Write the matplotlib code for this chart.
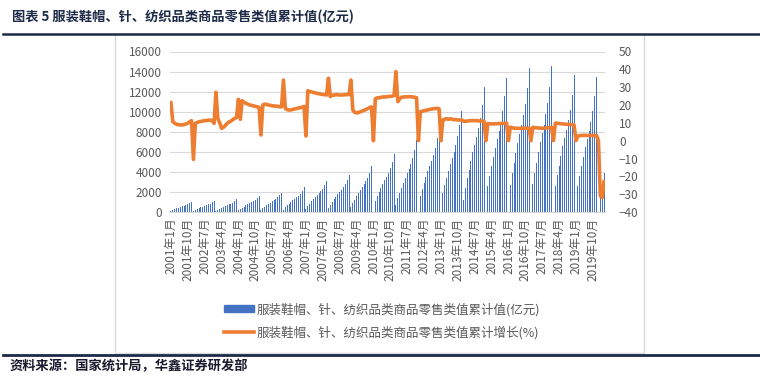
import matplotlib

matplotlib.use("Agg")
import matplotlib.pyplot as plt
from matplotlib.lines import Line2D
from matplotlib.patches import Patch, Rectangle

plt.rcParams["font.family"] = ["Noto Sans CJK SC", "DejaVu Sans"]

# cumulative value by year (亿元); 0 where the month was not published
value_2001 = [103, 196, 278, 350, 422, 494, 556, 618, 690, 773, 886, 1030]
value_2002 = [112, 213, 302, 381, 459, 538, 605, 672, 750, 840, 963, 1120]
value_2003 = [126, 239, 340, 428, 517, 605, 680, 756, 844, 945, 1084, 1260]
value_2004 = [159, 302, 429, 541, 652, 763, 859, 954, 1065, 1193, 1367, 1590]
value_2005 = [194, 369, 524, 660, 795, 931, 1048, 1164, 1300, 1455, 1668, 1940]
value_2006 = [245, 466, 662, 833, 1005, 1176, 1323, 1470, 1642, 1838, 2107, 2450]
value_2007 = [308, 585, 832, 1047, 1263, 1478, 1663, 1848, 2064, 2310, 2649, 3080]
value_2008 = [369, 701, 996, 1255, 1513, 1771, 1993, 2214, 2472, 2768, 3173, 3690]
value_2009 = [457, 868, 1234, 1554, 1874, 2194, 2468, 2742, 3062, 3428, 3930, 4570]
value_2010 = [0, 1108, 1574, 1982, 2390, 2798, 3148, 3498, 3906, 4373, 5014, 5830]
value_2011 = [716, 1360, 1933, 2434, 2936, 3437, 3866, 4296, 4797, 5370, 6158, 7160]
value_2012 = [0, 1625, 2309, 2907, 3506, 4104, 4617, 5130, 5729, 6413, 7353, 8550]
value_2013 = [0, 1908, 2711, 3414, 4116, 4819, 5422, 6024, 6727, 7530, 8634, 10040]
value_2014 = [1246, 2367, 3364, 4236, 5109, 5981, 6728, 7476, 8348, 9345, 10716, 12460]
value_2015 = [0, 2544, 3615, 4553, 5490, 6427, 7231, 8034, 8971, 10043, 11515, 13390]
value_2016 = [0, 2732, 3883, 4889, 5896, 6902, 7765, 8628, 9635, 10785, 12367, 14380]
value_2017 = [0, 2757, 3918, 4933, 5949, 6965, 7835, 8706, 9722, 10883, 12479, 14510]
value_2018 = [0, 2588, 3677, 4631, 5584, 6538, 7355, 8172, 9125, 10215, 11713, 13620]
value_2019 = [0, 2556, 3632, 4573, 5515, 6456, 7263, 8070, 9012, 10088, 11567, 13450]
value_2020 = [0, 1770, 2470, 3900]

# cumulative growth by year (%)
growth_2001 = [21.3, 10.6, 9.8, 9.2, 9.0, 8.8, 8.8, 9.0, 9.4, 9.8, 10.6, 11.2]
growth_2002 = [-10.5, 9.7, 10.2, 10.6, 10.8, 11.0, 11.2, 11.3, 11.5, 11.5, 11.3, 9.7]
growth_2003 = [27.1, 12.5, 10.0, 6.9, 7.5, 8.5, 9.7, 10.5, 11.0, 11.8, 12.5, 13.0]
growth_2004 = [23.2, 12.0, 22.4, 21.5, 21.0, 20.5, 20.0, 19.8, 19.5, 19.2, 19.0, 18.7]
growth_2005 = [3.2, 20.0, 20.5, 20.3, 20.0, 19.8, 19.5, 19.5, 19.3, 19.3, 19.0, 19.0]
growth_2006 = [34.0, 18.1, 17.4, 17.2, 17.2, 17.5, 17.8, 18.0, 18.3, 18.5, 18.8, 19.2]
growth_2007 = [2.6, 28.0, 27.6, 27.3, 27.0, 26.8, 26.5, 26.3, 26.1, 25.9, 25.8, 25.6]
growth_2008 = [35.0, 24.7, 25.5, 25.5, 25.8, 25.7, 25.6, 25.6, 25.7, 25.8, 25.8, 25.9]
growth_2009 = [34.0, 17.2, 15.9, 15.5, 15.8, 16.2, 16.6, 17.0, 17.5, 18.0, 18.5, 19.0]
growth_2010 = [0, 23.5, 24.0, 24.0, 24.3, 24.5, 24.5, 24.6, 24.8, 24.8, 25.0, 25.2]
growth_2011 = [38.7, 21.9, 23.5, 24.3, 24.5, 24.6, 24.6, 24.7, 24.6, 24.5, 24.3, 24.1]
growth_2012 = [0, 16.2, 16.5, 16.8, 17.0, 17.3, 17.5, 17.7, 17.9, 18.0, 18.1, 18.0]
growth_2013 = [0, 11.6, 12.0, 12.3, 12.0, 12.3, 12.0, 11.8, 11.8, 11.6, 11.6, 11.6]
growth_2014 = [11.0, 10.8, 11.0, 11.2, 11.2, 11.3, 11.2, 11.3, 11.1, 11.0, 11.0, 10.9]
growth_2015 = [0, 9.6, 9.5, 9.4, 9.4, 9.5, 9.5, 9.6, 9.6, 9.6, 9.7, 9.8]
growth_2016 = [0, 7.6, 7.3, 7.0, 7.0, 6.9, 6.9, 6.9, 7.0, 7.0, 7.0, 7.0]
growth_2017 = [0, 7.5, 7.3, 7.2, 7.1, 7.0, 7.0, 7.0, 7.1, 7.2, 7.3, 7.5]
growth_2018 = [0, 9.8, 9.8, 9.6, 9.5, 9.4, 9.3, 9.2, 9.1, 9.0, 8.9, 8.8]
growth_2019 = [0, 2.6, 2.8, 2.9, 3.0, 3.0, 2.9, 2.9, 2.9, 3.0, 2.9, 2.9]
growth_2020 = [0, -30.9, -32.0, -23.0]

tick_labels = [
    "2001年1月", "2001年10月", "2002年7月", "2003年4月", "2004年1月", "2004年10月",
    "2005年7月", "2006年4月", "2007年1月", "2007年10月", "2008年7月", "2009年4月",
    "2010年1月", "2010年10月", "2011年7月", "2012年4月", "2013年1月", "2013年10月",
    "2014年7月", "2015年4月", "2016年1月", "2016年10月", "2017年7月", "2018年4月",
    "2019年1月", "2019年10月",
]

title = "图表 5 服装鞋帽、针、纺织品类商品零售类值累计值(亿元)"
source = "资料来源：国家统计局，华鑫证券研发部"
bar_label = "服装鞋帽、针、纺织品类商品零售类值累计值(亿元)"
line_label = "服装鞋帽、针、纺织品类商品零售类值累计增长(%)"

values = (value_2001 + value_2002 + value_2003 + value_2004 + value_2005 + value_2006
          + value_2007 + value_2008 + value_2009 + value_2010 + value_2011 + value_2012
          + value_2013 + value_2014 + value_2015 + value_2016 + value_2017 + value_2018
          + value_2019 + value_2020)
growth = (growth_2001 + growth_2002 + growth_2003 + growth_2004 + growth_2005 + growth_2006
          + growth_2007 + growth_2008 + growth_2009 + growth_2010 + growth_2011 + growth_2012
          + growth_2013 + growth_2014 + growth_2015 + growth_2016 + growth_2017 + growth_2018
          + growth_2019 + growth_2020)
xs = list(range(len(values)))

BLUE = "#4472C4"
ORANGE = "#ED7D31"
NAVY = "#1D2A48"
GREY = "#595959"
GRID = "#D9D9D9"

W, H = 760, 383
fig = plt.figure(figsize=(W / 100, H / 100), dpi=100)


def px(x0, y0, x1, y1):
    return [x0 / W, 1 - y1 / H, (x1 - x0) / W, (y1 - y0) / H]


# chart frame and the two heavy rules
fig.patches.append(Rectangle((115 / W, 1 - 353 / H), (644 - 115) / W, (353 - 34) / H,
                             transform=fig.transFigure, fill=False, edgecolor=GRID, lw=1.0))
fig.add_artist(Line2D([3 / W, 759 / W], [1 - 34 / H] * 2, color=NAVY, lw=1.8))
fig.add_artist(Line2D([3 / W, 759 / W], [1 - 354.5 / H] * 2, color=NAVY, lw=2.0))
fig.text(12 / W, 1 - 17 / H, title, fontsize=9.5, fontweight="bold", color=NAVY, va="center")
fig.text(10 / W, 1 - 366 / H, source, fontsize=9.5, fontweight="bold", color="#1a1a2e", va="center")

ax = fig.add_axes(px(170, 51.5, 605, 212))
ax.bar(xs, values, width=0.5, color=BLUE, zorder=2)
ax.set_xlim(-0.5, len(values) - 0.5)
ax.set_ylim(0, 16000)
ax.set_yticks(range(0, 16001, 2000))
ax.grid(True, axis="y", color=GRID, lw=0.8, zorder=0)
ax.set_axisbelow(True)
for side in ("top", "left", "right"):
    ax.spines[side].set_visible(False)
ax.spines["bottom"].set_color(GRID)
ax.set_xticks(xs[::9])
ax.set_xticklabels(tick_labels, rotation=90)
ax.tick_params(length=0, labelsize=8.5, colors=GREY, pad=6)
ax.tick_params(axis="x", pad=4)

ax2 = ax.twinx()
ax2.plot(xs, growth, color=ORANGE, lw=2.6, solid_joinstyle="round", zorder=3)
ax2.set_ylim(-40, 50)
ax2.set_yticks(range(-40, 51, 10))
for side in ("top", "left", "right", "bottom"):
    ax2.spines[side].set_visible(False)
ax2.tick_params(length=0, labelsize=8.5, colors=GREY, pad=10)

handles = [Patch(color=BLUE, label=bar_label), Line2D([], [], color=ORANGE, lw=2.6, label=line_label)]
fig.legend(handles=handles, loc="center", bbox_to_anchor=(382 / W, 1 - 321 / H), frameon=False,
           fontsize=9, labelcolor=GREY, handlelength=2.4, handleheight=0.45, handletextpad=0.2,
           labelspacing=0.75)

fig.savefig("out.png", dpi=100)
